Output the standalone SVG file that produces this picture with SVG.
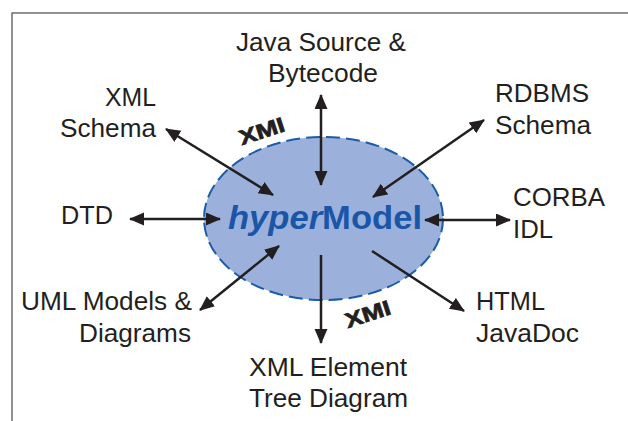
<svg xmlns="http://www.w3.org/2000/svg" width="628" height="421" viewBox="0 0 628 421">
<style>
.lbl{font-family:"Liberation Sans",Arial,sans-serif;font-size:25px;fill:#231f20;}
.xmi{font-family:"Liberation Sans",Arial,sans-serif;font-size:21px;font-weight:bold;fill:#231f20;stroke:#231f20;stroke-width:0.7;}
.conn{stroke:#231f20;stroke-width:2.5;fill:none;}
</style>
<defs>
<marker id="ah" markerUnits="userSpaceOnUse" markerWidth="16" markerHeight="14" refX="14" refY="6.5" orient="auto-start-reverse" viewBox="0 0 16 14">
<path d="M0,0 L15,6.5 L0,13 z" fill="#231f20"/>
</marker>
</defs>
<rect width="628" height="421" fill="#ffffff"/>
<g id="frame" stroke="#6d6e71" stroke-width="1.5" fill="none">
<path d="M12,421 L12,13 L628,13"/>
</g>
<g id="hypermodel">
<ellipse cx="323.5" cy="218.5" rx="119.5" ry="81.5" fill="#9bb1db" stroke="#1a5ca8" stroke-width="2" stroke-dasharray="14 6"/>
<text x="228" y="229" font-family="'Liberation Sans',Arial,sans-serif" font-size="34" font-weight="bold" fill="#1a56a8" textLength="194" lengthAdjust="spacingAndGlyphs"><tspan font-style="italic">hyper</tspan>Model</text>
</g>
<g id="connectors">
<path class="conn" d="M321,95 L321,185" marker-start="url(#ah)" marker-end="url(#ah)"/>
<path class="conn" d="M321,255 L321,343" marker-end="url(#ah)"/>
<path class="conn" d="M166,129 L273,195" marker-start="url(#ah)" marker-end="url(#ah)"/>
<path class="conn" d="M373,197 L484,120" marker-start="url(#ah)" marker-end="url(#ah)"/>
<path class="conn" d="M130,219 L220,219" marker-start="url(#ah)" marker-end="url(#ah)"/>
<path class="conn" d="M425,220 L510,220" marker-start="url(#ah)" marker-end="url(#ah)"/>
<path class="conn" d="M200,310 L279,246" marker-start="url(#ah)" marker-end="url(#ah)"/>
<path class="conn" d="M372,251 L464,311" marker-end="url(#ah)"/>
<text class="xmi" transform="translate(264,138) rotate(-18)" text-anchor="middle" textLength="47" lengthAdjust="spacingAndGlyphs">XMI</text>
<text class="xmi" transform="translate(370,321) rotate(-18)" text-anchor="middle" textLength="47" lengthAdjust="spacingAndGlyphs">XMI</text>
</g>
<g id="java">
<text class="lbl" x="236" y="51" textLength="170" lengthAdjust="spacingAndGlyphs">Java Source &amp;</text>
<text class="lbl" x="268" y="82" textLength="110" lengthAdjust="spacingAndGlyphs">Bytecode</text>
</g>
<g id="xmlschema">
<text class="lbl" x="105" y="106" textLength="51" lengthAdjust="spacingAndGlyphs">XML</text>
<text class="lbl" x="60" y="137" textLength="96" lengthAdjust="spacingAndGlyphs">Schema</text>
</g>
<g id="rdbms">
<text class="lbl" x="495" y="102" textLength="94" lengthAdjust="spacingAndGlyphs">RDBMS</text>
<text class="lbl" x="495" y="134" textLength="96" lengthAdjust="spacingAndGlyphs">Schema</text>
</g>
<g id="corba">
<text class="lbl" x="513" y="206" textLength="92" lengthAdjust="spacingAndGlyphs">CORBA</text>
<text class="lbl" x="513" y="238" textLength="40" lengthAdjust="spacingAndGlyphs">IDL</text>
</g>
<g id="dtd">
<text class="lbl" x="61" y="224" textLength="52" lengthAdjust="spacingAndGlyphs">DTD</text>
</g>
<g id="uml">
<text class="lbl" x="21" y="310" textLength="171" lengthAdjust="spacingAndGlyphs">UML Models &amp;</text>
<text class="lbl" x="79" y="342" textLength="112" lengthAdjust="spacingAndGlyphs">Diagrams</text>
</g>
<g id="html">
<text class="lbl" x="476" y="310" textLength="69" lengthAdjust="spacingAndGlyphs">HTML</text>
<text class="lbl" x="476" y="342" textLength="103" lengthAdjust="spacingAndGlyphs">JavaDoc</text>
</g>
<g id="xmltree">
<text class="lbl" x="249" y="376" textLength="158" lengthAdjust="spacingAndGlyphs">XML Element</text>
<text class="lbl" x="249" y="407" textLength="159" lengthAdjust="spacingAndGlyphs">Tree Diagram</text>
</g>
</svg>
